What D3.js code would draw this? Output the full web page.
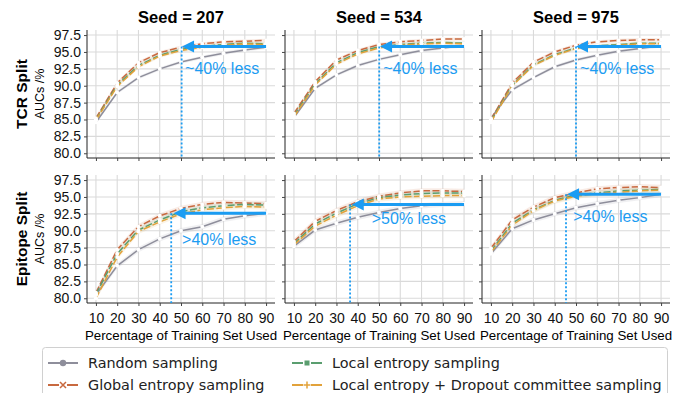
<!DOCTYPE html>
<html lang="en">
<head>
    <meta charset="UTF-8">
    <title>Active learning AUCs</title>
    <script src="https://d3js.org/d3.v7.min.js"></script>
    <style>
        * { margin: 0; padding: 0; box-sizing: border-box; }
        html, body { width: 673px; height: 393px; overflow: hidden; background: #fff; }
        svg { display: block; font-family: "Liberation Sans", Arial, sans-serif; }
    </style>
</head>
<body>
<svg id="chart" width="673" height="393"></svg>
<script>
    const seeds = [207, 534, 975]
    const splits = ["TCR Split", "Epitope Split"]
    const pct = [10, 20, 30, 40, 50, 60, 70, 80, 90]
    const yTicks = [80.0, 82.5, 85.0, 87.5, 90.0, 92.5, 95.0, 97.5]
    const methods = ["Random sampling", "Global entropy sampling", "Local entropy sampling",
        "Local entropy + Dropout committee sampling"]
    const colors = ["#8e8e9b", "#c8693f", "#5a9e6f", "#e2a23a"]

    // one row per seed (207, 534, 975)
    const tcrRandom = [
        [84.6, 89.0, 91.2, 92.5, 93.5, 94.2, 94.8, 95.3, 95.7],
        [85.3, 89.6, 91.6, 93.0, 93.9, 94.6, 95.2, 95.6, 95.9],
        [85.2, 89.4, 91.2, 92.8, 93.8, 94.5, 95.1, 95.5, 95.9],
    ]
    const tcrGlobal = [
        [85.2, 90.4, 93.4, 94.9, 95.7, 96.2, 96.5, 96.6, 96.7],
        [85.9, 90.6, 93.8, 95.2, 96.1, 96.5, 96.7, 96.9, 96.9],
        [85.0, 90.4, 93.5, 95.0, 96.0, 96.5, 96.7, 96.8, 96.8],
    ]
    const tcrLocal = [
        [85.0, 90.1, 93.0, 94.5, 95.4, 95.8, 96.1, 96.3, 96.2],
        [85.6, 90.3, 93.4, 94.9, 95.8, 96.1, 96.3, 96.4, 96.3],
        [84.8, 90.1, 93.1, 94.6, 95.6, 95.9, 96.1, 96.3, 96.3],
    ]
    const tcrDropout = [
        [84.9, 89.9, 92.8, 94.4, 95.2, 95.7, 96.0, 96.2, 96.1],
        [85.4, 90.1, 93.2, 94.7, 95.6, 96.0, 96.2, 96.3, 96.2],
        [84.6, 90.0, 93.0, 94.5, 95.5, 95.8, 96.0, 96.2, 96.2],
    ]
    const epiRandom = [
        [80.5, 84.8, 87.2, 88.8, 90.0, 90.6, 91.7, 92.2, 92.6],
        [87.7, 90.1, 91.1, 92.0, 92.7, 93.3, 93.7, 93.9, 94.0],
        [86.6, 90.3, 91.6, 92.5, 93.4, 94.0, 94.5, 94.9, 95.4],
    ]
    const epiGlobal = [
        [80.8, 87.2, 90.6, 92.2, 93.3, 93.9, 94.2, 94.1, 94.0],
        [88.4, 91.4, 93.0, 94.3, 95.1, 95.6, 95.9, 95.9, 95.8],
        [87.4, 91.6, 93.5, 94.9, 95.6, 96.2, 96.4, 96.5, 96.4],
    ]
    const epiLocal = [
        [80.6, 86.6, 90.1, 91.6, 92.8, 93.4, 93.7, 93.9, 93.8],
        [88.1, 91.0, 92.6, 94.0, 94.9, 95.3, 95.5, 95.6, 95.6],
        [87.0, 91.1, 93.1, 94.5, 95.3, 95.6, 95.9, 96.0, 96.1],
    ]
    const epiDropout = [
        [80.0, 86.1, 89.9, 91.3, 92.5, 93.1, 93.4, 93.6, 93.5],
        [87.9, 90.7, 92.3, 93.7, 94.7, 95.0, 95.1, 95.2, 95.2],
        [86.8, 90.8, 93.0, 94.4, 95.1, 95.5, 95.7, 95.9, 96.0],
    ]

    // annotations: arrow level, arrow tip / dotted line (in % of training set), text anchor
    const arrowLevel = [[95.8, 95.8, 95.8], [92.6, 93.9, 95.4]]
    const arrowTip = [[50.5, 50.5, 50.0], [46.5, 37.2, 45.8]]
    const dropLine = [[50.3, 50.1, 50.0], [45.4, 36.4, 45.3]]
    const noteText = [["~40% less", "~40% less", "~40% less"], [">40% less", ">50% less", ">40% less"]]
    const noteX = [[51.9, 52.0, 51.9], [50.5, 46.6, 48.7]]
    const noteY = [[91.7, 91.7, 91.7], [87.9, 91.0, 91.3]]

    const series = [
        [tcrRandom, tcrGlobal, tcrLocal, tcrDropout],
        [epiRandom, epiGlobal, epiLocal, epiDropout],
    ]

    const blue = "#1b9cf2"
    const panelLeft = [87, 285, 482]
    const panelTop = [30, 175]
    const pw = 188, ph = 128

    const svg = d3.select("#chart")
    const x = d3.scaleLinear().domain([5.8, 94.2]).range([0, pw])
    const y = d3.scaleLinear().domain([79.3, 98.25]).range([ph, 0])

    const defs = svg.append("defs")
    defs.append("clipPath").attr("id", "clip")
        .append("rect").attr("width", pw).attr("height", ph)

    splits.forEach((split, r) => {
        seeds.forEach((seed, c) => {
            const g = svg.append("g")
                .attr("transform", `translate(${panelLeft[c]},${panelTop[r]})`)

            // grid
            g.append("g").selectAll("line").data(pct).join("line")
                .attr("x1", d => x(d)).attr("x2", d => x(d))
                .attr("y1", 0).attr("y2", ph)
                .attr("stroke", "#dadada").attr("stroke-width", 1.1)
            g.append("g").selectAll("line").data(yTicks).join("line")
                .attr("x1", 0).attr("x2", pw)
                .attr("y1", d => y(d)).attr("y2", d => y(d))
                .attr("stroke", "#dadada").attr("stroke-width", 1.1)

            // axes
            const yAxis = d3.axisLeft(y).tickValues(yTicks).tickSize(3).tickPadding(3)
                .tickFormat(c === 0 ? d3.format(".1f") : "")
            const xAxis = d3.axisBottom(x).tickValues(pct).tickSize(3).tickPadding(7)
                .tickFormat(r === 1 ? d3.format("d") : "")
            const ya = g.append("g").call(yAxis)
            const xa = g.append("g").attr("transform", `translate(0,${ph})`).call(xAxis)
            for (const a of [ya, xa]) {
                a.select(".domain").attr("stroke", "#222").attr("stroke-width", 1)
                a.selectAll(".tick line").attr("stroke", "#444")
                a.selectAll("text").attr("fill", "#111").style("font-size", "14px")
                    .style("font-family", "'Liberation Sans', Arial, sans-serif")
            }
            xa.select(".domain").attr("d", `M0,0H${pw}`)
            ya.select(".domain").attr("d", `M0,0V${ph}`)

            const plot = g.append("g").attr("clip-path", "url(#clip)")
            const line = d3.line().x((d, i) => x(pct[i])).y(d => y(d))
            const area = d3.area().x((d, i) => x(pct[i]))
                .y0(d => y(d - (r ? 0.4 : 0.25))).y1(d => y(d + (r ? 0.4 : 0.25)))

            series[r].forEach((s, m) => {
                plot.append("path").datum(s[c]).attr("d", area)
                    .attr("fill", colors[m]).attr("opacity", 0.13)
            })
            series[r].forEach((s, m) => {
                plot.append("path").datum(s[c]).attr("d", line)
                    .attr("fill", "none").attr("stroke", colors[m]).attr("stroke-width", 1.5)
                    .attr("stroke-dasharray", m === 0 ? null : "7,2.5")
            })
            series[r].forEach((s) => {
                plot.append("g").selectAll("circle").data(s[c]).join("circle")
                    .attr("cx", (d, i) => x(pct[i])).attr("cy", d => y(d))
                    .attr("r", 2).attr("fill", "#fff")
            })

            // annotation
            const ay = y(arrowLevel[r][c])
            const tipX = x(arrowTip[r][c])
            g.append("line")
                .attr("x1", x(dropLine[r][c])).attr("x2", x(dropLine[r][c]))
                .attr("y1", ay).attr("y2", ph)
                .attr("stroke", blue).attr("stroke-width", 1.8).attr("stroke-dasharray", "2,2")
            g.append("line")
                .attr("x1", x(90)).attr("x2", tipX + 10)
                .attr("y1", ay).attr("y2", ay)
                .attr("stroke", blue).attr("stroke-width", 3)
            g.append("path")
                .attr("d", `M${tipX},${ay}L${tipX + 12},${ay - 6}L${tipX + 12},${ay + 6}Z`)
                .attr("fill", blue)
            g.append("text")
                .attr("x", x(noteX[r][c])).attr("y", y(noteY[r][c]))
                .attr("fill", blue).style("font-size", "16px")
                .text(noteText[r][c])

            if (r === 0) {
                g.append("text").attr("x", pw / 2).attr("y", -7)
                    .attr("text-anchor", "middle").style("font-size", "16.5px")
                    .style("font-weight", "bold").text(`Seed = ${seed}`)
            } else {
                g.append("text").attr("x", pw / 2).attr("y", ph + 37)
                    .attr("text-anchor", "middle").style("font-size", "13.3px")
                    .text("Percentage of Training Set Used")
            }
        })

        const cy = panelTop[r] + ph / 2
        svg.append("text").attr("transform", `translate(27,${cy}) rotate(-90)`)
            .attr("text-anchor", "middle").style("font-size", "15.5px").style("font-weight", "bold")
            .text(split)
        svg.append("text").attr("transform", `translate(44,${cy}) rotate(-90)`)
            .attr("text-anchor", "middle").style("font-size", "12.5px")
            .text("AUCs /%")
    })

    // legend
    const leg = svg.append("g").style("font-family", "'DejaVu Sans', sans-serif")
    leg.append("rect").attr("x", 42.5).attr("y", 347.5).attr("width", 625).attr("height", 60)
        .attr("rx", 3).attr("fill", "#fff").attr("stroke", "#d0d0d0")
    const legPos = [[48, 363], [48, 385], [292, 363], [292, 385]]
    methods.forEach((name, m) => {
        const [lx, ly] = legPos[m]
        const it = leg.append("g").attr("transform", `translate(${lx},${ly})`)
        it.append("line").attr("x1", 0).attr("x2", 30).attr("y1", 0).attr("y2", 0)
            .attr("stroke", colors[m]).attr("stroke-width", 2)
        if (m === 0) {
            it.append("circle").attr("cx", 15).attr("r", 3.2).attr("fill", colors[m])
        } else if (m === 1) {
            it.append("path").attr("d", "M12,-3L18,3M12,3L18,-3")
                .attr("stroke", colors[m]).attr("stroke-width", 1.5)
                .attr("fill", "none")
            it.select("line").attr("stroke-dasharray", "11,8")
        } else if (m === 2) {
            it.append("rect").attr("x", 12.5).attr("y", -2.5).attr("width", 5).attr("height", 5)
                .attr("fill", colors[m])
            it.select("line").attr("stroke-dasharray", "11,8")
        } else {
            it.append("path").attr("d", "M11.5,0H18.5M15,-3.5V3.5")
                .attr("stroke", colors[m]).attr("stroke-width", 1.5)
            it.select("line").attr("stroke-dasharray", "11,8")
        }
        it.append("text").attr("x", 40).attr("y", 5)
            .style("font-size", "14.4px").attr("fill", "#222").text(name)
    })
</script>
</body>
</html>
